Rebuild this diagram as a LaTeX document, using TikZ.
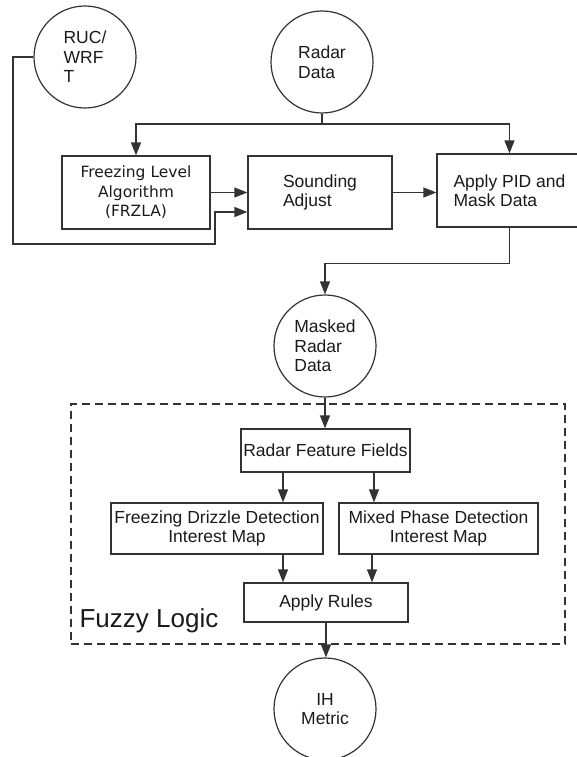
\documentclass[tikz,border=0pt]{standalone}
\usepackage{fontspec}
\setmainfont{Liberation Sans}
\newfontfamily\verdfont{DejaVu Sans}
\usetikzlibrary{arrows.meta,calc}
\definecolor{ln}{HTML}{333333}
\definecolor{tx}{HTML}{1A1A1A}
\begin{document}
\begin{tikzpicture}[x=1pt,y=-1pt,line width=1.2pt,
  circ/.style={circle,draw=ln,minimum size=102pt,inner sep=0pt,align=left,text=tx,
    font=\fontsize{17.5}{19.5}\selectfont},
  box/.style={rectangle,draw=ln,inner sep=0pt,align=center,text=tx,
    font=\fontsize{17.5}{19.5}\selectfont},
  arr/.style={draw=ln,-{Triangle[length=13pt,width=10pt]}},
  conn/.style={draw=ln}]
\useasboundingbox (0,0) rectangle (577,757);
% circles
\node[circ] (ruc) at (85,57) {RUC/\\WRF\\T\hspace{8pt}};
\node[circ] (radar) at (322,62) {Radar\\Data};
\node[circ] (mask) at (325,346) {Masked\\Radar\\Data};
\node[circ,align=center] (ih) at (325,709) {IH\\Metric};
% boxes
\node[box,minimum width=148pt,minimum height=73pt,font=\verdfont\fontsize{15.5}{19.5}\selectfont] (frz) at (136,192.5) {Freezing Level\\Algorithm\\(FRZLA)};
\node[box,minimum width=144pt,minimum height=73pt,align=left] (snd) at (320,192.5) {Sounding\hspace{8pt}\\Adjust};
\node[box,minimum width=145pt,minimum height=73pt,align=left] (pid) at (509.5,190.5) {Apply PID and\\Mask Data};
\node[box,minimum width=169pt,minimum height=43pt] (rff) at (325.5,450.5) {Radar Feature Fields};
\node[box,minimum width=212pt,minimum height=51pt] (fdd) at (217,528.5) {Freezing Drizzle Detection\\Interest Map};
\node[box,minimum width=199pt,minimum height=51pt] (mpd) at (438.5,528.5) {Mixed Phase Detection\\Interest Map};
\node[box,minimum width=164pt,minimum height=39pt] (ar) at (326,602.5) {Apply Rules};
% fuzzy logic frame
\node[draw=ln,dash pattern=on 8pt off 5pt,minimum width=494pt,minimum height=240pt,inner sep=0pt] (fz) at (318,524) {};
\node[anchor=base west,inner sep=0pt,text=tx,font=\fontsize{26}{30}\selectfont] (fzl) at (79,627) {Fuzzy Logic};
% connectors
\coordinate (j) at (322,124);
\draw[conn] (radar.south) -- (j);
\draw[arr] (j) -| (frz);
\draw[arr] (j) -| (pid);
\draw[arr] (frz.east) -- (snd.west);
\draw[arr] (ruc.west) -| (13,244) -| (215,212) -- ($(snd.west)+(0,19.5)$);
\draw[arr] (snd.east) -- (snd.east -| pid.west);
\draw[arr] (pid.south) -- ++(0,36) -| (mask);
\draw[arr] (mask.south) -- (mask.south |- rff.north);
\draw[arr] ([xshift=-42.5pt]rff.south) -- ([xshift=-42.5pt]rff.south |- fdd.north);
\draw[arr] ([xshift=48.5pt]rff.south) -- ([xshift=48.5pt]rff.south |- mpd.north);
\draw[arr] ([xshift=-43pt]ar.north |- fdd.south) -- ([xshift=-43pt]ar.north);
\draw[arr] ([xshift=46pt]ar.north |- mpd.south) -- ([xshift=46pt]ar.north);
\draw[arr] (ar.south) -- (ar.south |- ih.north);
\end{tikzpicture}
\end{document}
